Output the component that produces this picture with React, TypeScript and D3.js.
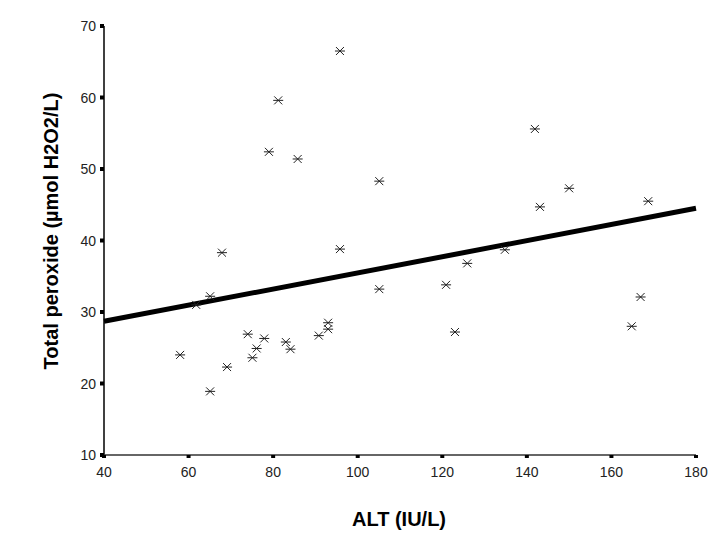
import React from "react";
import * as d3 from "d3";

const altValues = [58, 61.8, 65.1, 65.1, 67.9, 69.1, 74.0, 75.1, 76.1, 77.9, 79.0, 81.2, 83.0, 84.1, 85.8, 90.8, 93.0, 93.0, 95.8, 95.8, 105.1, 105.1, 120.9, 123.0, 125.9, 134.8, 141.9, 143.1, 150.0, 164.8, 166.9, 168.7];
const peroxideValues = [24.0, 31.0, 32.2, 18.9, 38.3, 22.3, 26.9, 23.6, 24.9, 26.3, 52.4, 59.6, 25.8, 24.8, 51.4, 26.7, 28.5, 27.6, 66.5, 38.8, 48.3, 33.2, 33.8, 27.2, 36.8, 38.7, 55.6, 44.7, 47.3, 28.0, 32.1, 45.5];
const trendX = [40, 180];
const trendY = [28.7, 44.5];
const xTicks = [40, 60, 80, 100, 120, 140, 160, 180];
const yTicks = [10, 20, 30, 40, 50, 60, 70];

export default function App() {
  const W = 720, H = 540;
  const x = d3.scaleLinear().domain([40, 180]).range([104, 696]);
  const y = d3.scaleLinear().domain([10, 70]).range([455, 26]);
  const font = "'Liberation Sans', Arial, sans-serif";
  const line = d3.line<number>().x((d) => x(trendX[d])).y((d) => y(trendY[d]));
  const s = 5;
  return (
    <svg width={W} height={H} style={{ position: "absolute", left: 0, top: 0, background: "#fff" }}>
      <rect x={0} y={0} width={W} height={H} fill="#fff" />
      <line x1={x(40)} x2={x(40)} y1={y(70)} y2={y(10)} stroke="#000" strokeWidth={1.5} />
      <line x1={x(40)} x2={x(180)} y1={y(10)} y2={y(10)} stroke="#333" strokeWidth={1.5} />
      {yTicks.map((t) => (
        <g key={"y" + t}>
          <rect x={x(40) - 4} y={y(t) - 2} width={4} height={4} fill="#000" />
          <text x={x(40) - 8} y={y(t) + 5} textAnchor="end" fontFamily={font} fontSize={14} fill="#222">{t}</text>
        </g>
      ))}
      {xTicks.map((t) => (
        <g key={"x" + t}>
          <rect x={x(t) - 2} y={y(10)} width={4} height={3} fill="#000" />
          <text x={x(t)} y={y(10) + 22} textAnchor="middle" fontFamily={font} fontSize={14} fill="#222">{t}</text>
        </g>
      ))}
      <path d={line([0, 1]) || ""} stroke="#000" strokeWidth={5} fill="none" />
      {altValues.map((a, i) => {
        const cx = x(a), cy = y(peroxideValues[i]);
        return (
          <g key={"p" + i} stroke="#222" strokeWidth={1}>
            <line x1={cx - s} x2={cx + s} y1={cy} y2={cy} />
            <line x1={cx - 4} x2={cx + 4} y1={cy - 4} y2={cy + 4} />
            <line x1={cx - 4} x2={cx + 4} y1={cy + 4} y2={cy - 4} />
          </g>
        );
      })}
      <text x={399} y={526} textAnchor="middle" fontFamily={font} fontSize={20} fontWeight="bold" fill="#000">ALT (IU/L)</text>
      <text transform={`translate(58,231) rotate(-90)`} textAnchor="middle" fontFamily={font} fontSize={20} fontWeight="bold" fill="#000">Total peroxide (µmol H2O2/L)</text>
    </svg>
  );
}
